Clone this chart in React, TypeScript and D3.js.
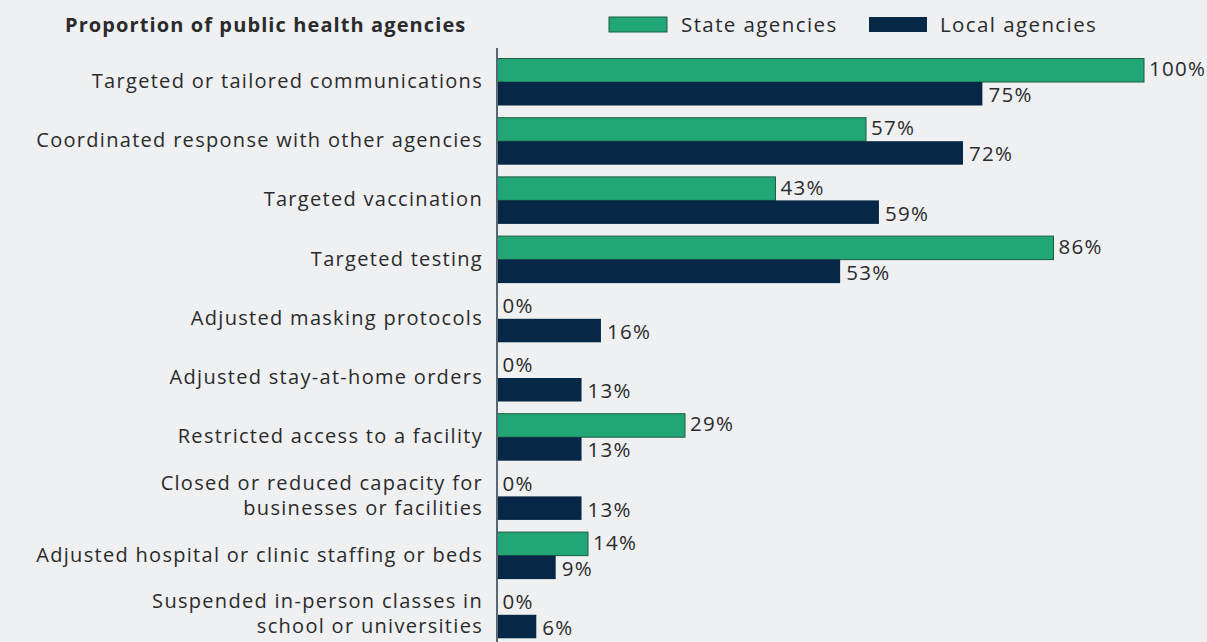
import React from "react";
import * as d3 from "d3";

const categories: string[][] = [
  ["Targeted or tailored communications"],
  ["Coordinated response with other agencies"],
  ["Targeted vaccination"],
  ["Targeted testing"],
  ["Adjusted masking protocols"],
  ["Adjusted stay-at-home orders"],
  ["Restricted access to a facility"],
  ["Closed or reduced capacity for", "businesses or facilities"],
  ["Adjusted hospital or clinic staffing or beds"],
  ["Suspended in-person classes in", "school or universities"],
];
const stateValues = [100, 57, 43, 86, 0, 0, 29, 0, 14, 0];
const localValues = [75, 72, 59, 53, 16, 13, 13, 13, 9, 6];
const seriesNames = ["State agencies", "Local agencies"];
const title = "Proportion of public health agencies";

const W = 1207;
const H = 642;
const BG = "#eef0f2";
const GREEN = "#21a675";
const GREEN_STROKE = "#1d5e44";
const NAVY = "#062846";
const TEXT = "#2b2b2b";
const FONT = "'Open Sans', sans-serif";

export default function App() {
  const keys = categories.map((c) => c.join(" "));
  const y = d3.scaleBand<string>().domain(keys).range([58.5, 638.3]).paddingInner(0.206).paddingOuter(0);
  const sub = d3.scaleBand<string>().domain(seriesNames).range([0, y.bandwidth()]).padding(0);
  const x = d3.scaleLinear().domain([0, 100]).range([497.5, 1144]);
  const fs = 20;
  const ls = 1.3;

  return (
    <svg width={W} height={H} style={{ position: "absolute", left: 0, top: 0, display: "block" }}>
      <rect x={0} y={0} width={W} height={H} fill={BG} />
      <text x={65} y={32} fontFamily={FONT} fontWeight={700} fontSize={20} letterSpacing={1.1} fill={TEXT}>
        {title}
      </text>
      {/* legend */}
      <g fontFamily={FONT} fontSize={20.5} letterSpacing={1.4} fill={TEXT}>
        <rect x={609} y={17} width={58} height={15} fill={GREEN} stroke={GREEN_STROKE} strokeWidth={1} />
        <text x={681} y={31.5}>{seriesNames[0]}</text>
        <rect x={869} y={17} width={58} height={15} fill={NAVY} />
        <text x={940} y={31.5}>{seriesNames[1]}</text>
      </g>
      {categories.map((lines, i) => {
        const key = keys[i];
        const y0 = y(key)!;
        const cy = y0 + y.bandwidth() / 2 - 1.5;
        const gy = y0 + sub(seriesNames[0])!;
        const ly = y0 + sub(seriesNames[1])!;
        const bh = sub.bandwidth();
        const sv = stateValues[i];
        const lv = localValues[i];
        const lineH = 25;
        return (
          <g key={key} fontFamily={FONT} fontSize={fs} letterSpacing={ls} fill={TEXT}>
            {lines.map((ln, j) => (
              <text
                key={j}
                x={483}
                y={cy + (j - (lines.length - 1) / 2) * lineH}
                textAnchor="end"
                dominantBaseline="central"
              >
                {ln}
              </text>
            ))}
            {sv > 0 && (
              <rect
                x={x(0)}
                y={gy}
                width={x(sv) - x(0)}
                height={bh}
                fill={GREEN}
                stroke={GREEN_STROKE}
                strokeWidth={1}
              />
            )}
            <text x={x(sv) + 5} y={gy + bh / 2 - 2} fontSize={20.5} dominantBaseline="central">
              {sv}%
            </text>
            <rect x={x(0)} y={ly} width={x(lv) - x(0)} height={bh} fill={NAVY} />
            <text x={x(lv) + 6} y={ly + bh / 2 + 0.5} fontSize={20.5} dominantBaseline="central">
              {lv}%
            </text>
          </g>
        );
      })}
      <line x1={x(0) - 0.5} x2={x(0) - 0.5} y1={48} y2={H} stroke="#5b6770" strokeWidth={2} />
    </svg>
  );
}
